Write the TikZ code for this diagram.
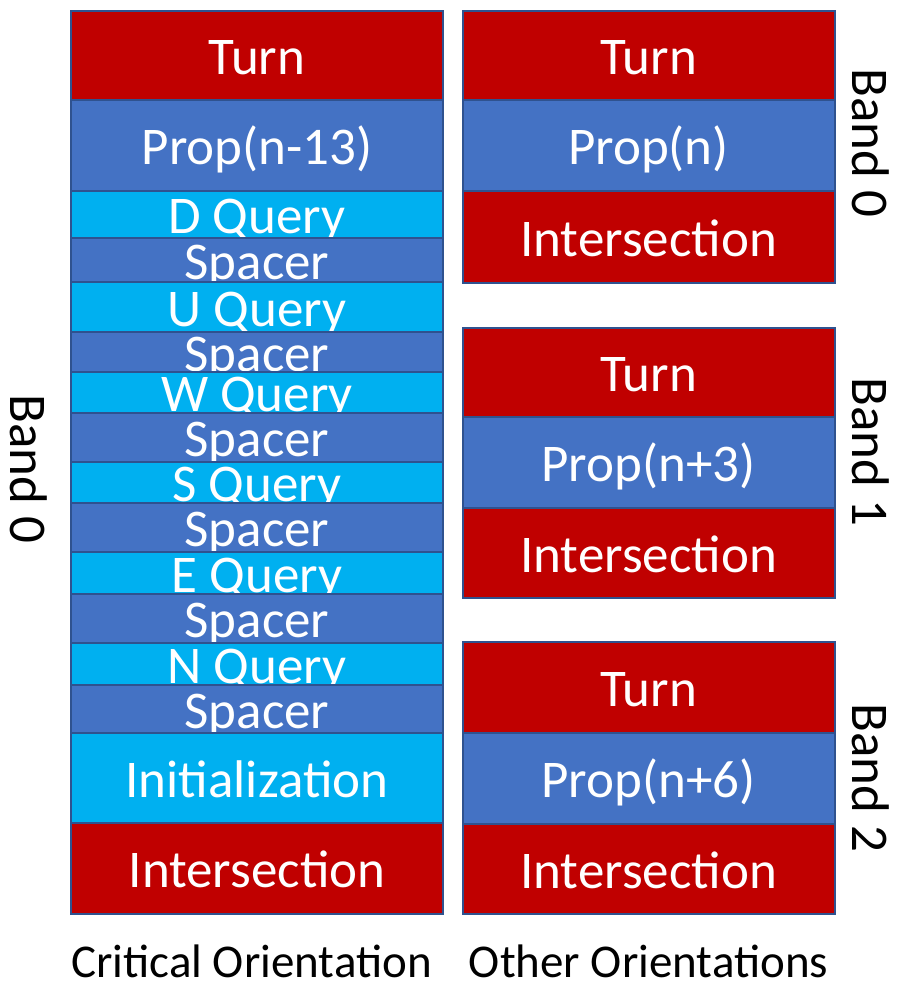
\documentclass[tikz,border=0pt]{standalone}
\usepackage{fontspec}
\setmainfont{Carlito}
\usetikzlibrary{positioning}
\definecolor{turnred}{HTML}{C00000}
\definecolor{propblue}{HTML}{4472C4}
\definecolor{queryblue}{HTML}{00B0F0}
\definecolor{edge}{HTML}{2F528F}

\tikzset{
  blk/.style={draw=edge,line width=1pt,text=white,minimum width=186pt,
    inner sep=0pt,outer sep=0pt,text height=19.1pt,text depth=0pt,
    font=\fontsize{26.5}{31}\selectfont},
  redblk/.style={blk,fill=turnred},
  propblk/.style={blk,fill=propblue},
  qryblk/.style={blk,fill=queryblue},
  bandlbl/.style={rotate=-90,inner sep=0pt,font=\fontsize{26.5}{31}\selectfont},
  collbl/.style={anchor=base,inner sep=0pt,font=\fontsize{23.5}{28}\selectfont}
}

\begin{document}
\begin{tikzpicture}[x=0.5pt,y=-0.5pt]
\useasboundingbox (0,0) rectangle (897,983);

% critical orientation, one band
\node[redblk,minimum height=44.5pt,anchor=north] (cturn) at (257,11) {Turn};
\node[propblk,minimum height=45.5pt,below=0pt of cturn] (cprop) {Prop(n-13)};
\node[qryblk,minimum height=23.5pt,below=0pt of cprop] (qd) {D Query};
\node[propblk,minimum height=22pt,below=0pt of qd] (sp1) {Spacer};
\node[qryblk,minimum height=25pt,below=0pt of sp1] (qu) {U Query};
\node[propblk,minimum height=20pt,below=0pt of qu] (sp2) {Spacer};
\node[qryblk,minimum height=20.5pt,below=0pt of sp2] (qw) {W Query};
\node[propblk,minimum height=24.5pt,below=0pt of qw] (sp3) {Spacer};
\node[qryblk,minimum height=20.5pt,below=0pt of sp3] (qs) {S Query};
\node[propblk,minimum height=24.5pt,below=0pt of qs] (sp4) {Spacer};
\node[qryblk,minimum height=21pt,below=0pt of sp4] (qe) {E Query};
\node[propblk,minimum height=24.5pt,below=0pt of qe] (sp5) {Spacer};
\node[qryblk,minimum height=21pt,below=0pt of sp5] (qn) {N Query};
\node[propblk,minimum height=24pt,below=0pt of qn] (sp6) {Spacer};
\node[qryblk,minimum height=45pt,below=0pt of sp6] (cinit) {Initialization};
\node[redblk,minimum height=45.5pt,below=0pt of cinit] (cinter) {Intersection};

% other orientations, three bands
\node[redblk,minimum height=44.5pt,anchor=north] (turn0) at (648.5,11) {Turn};
\node[propblk,minimum height=45.5pt,below=0pt of turn0] (prop0) {Prop(n)};
\node[redblk,minimum height=46pt,below=0pt of prop0] (inter0) {Intersection};

\node[redblk,minimum height=44.5pt,anchor=north] (turn1) at (648.5,328) {Turn};
\node[propblk,minimum height=45.5pt,below=0pt of turn1] (prop1) {Prop(n+3)};
\node[redblk,minimum height=45pt,below=0pt of prop1] (inter1) {Intersection};

\node[redblk,minimum height=45.5pt,anchor=north] (turn2) at (648.5,642) {Turn};
\node[propblk,minimum height=45.5pt,below=0pt of turn2] (prop2) {Prop(n+6)};
\node[redblk,minimum height=45pt,below=0pt of prop2] (inter2) {Intersection};

% band and column labels
\node[bandlbl] (cband) at (29,469) {Band 0};
\node[bandlbl] (band0) at (871,143) {Band 0};
\node[bandlbl] (band1) at (871,452) {Band 1};
\node[bandlbl] (band2) at (871,778) {Band 2};
\node[collbl] (critlbl) at (251.5,977) {Critical Orientation};
\node[collbl] (otherlbl) at (648.5,977) {Other Orientations};
\end{tikzpicture}
\end{document}
